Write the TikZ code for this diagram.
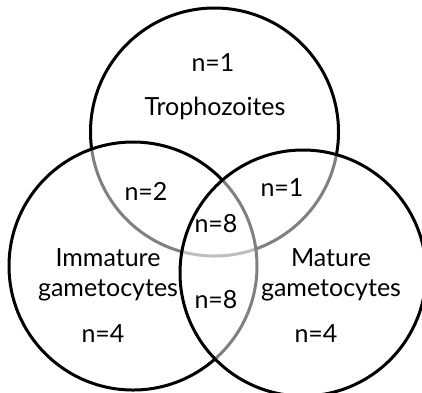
\documentclass[tikz,border=0pt]{standalone}
\usepackage{fontspec}
\setmainfont{Lato}
\begin{document}
\begin{tikzpicture}[x=1pt,y=-1pt,
  ring/.style={draw=black,line width=3pt},
  veil/.style={fill=white,fill opacity=0.5},
  lbl/.style={inner sep=0pt,align=center,font=\fontsize{25}{30}\selectfont}]
\useasboundingbox (0,0) rectangle (422,392);
\begin{scope}
\clip (0,0) rectangle (422,392);
\draw[ring] (214.5,132) circle[radius=124];
\fill[veil] (133,266) circle[radius=124];
\draw[ring] (133,266) circle[radius=124];
\fill[veil] (303,273) circle[radius=123];
\draw[ring] (303,273) circle[radius=123];
\end{scope}
\node[lbl] (t1) at (213,63) {n=1};
\node[lbl] (tr) at (215,108) {Trophozoites};
\node[lbl] (n2) at (146,191) {n=2};
\node[lbl] (r1) at (282,188) {n=1};
\node[lbl] (c8) at (216,224) {n=8};
\node[lbl] (im) at (108,275) {Immature\\gametocytes};
\node[lbl] (b8) at (216,300) {n=8};
\node[lbl] (ma) at (331,275) {Mature\\gametocytes};
\node[lbl] (l4) at (103,334) {n=4};
\node[lbl] (m4) at (316,334) {n=4};
\end{tikzpicture}
\end{document}
